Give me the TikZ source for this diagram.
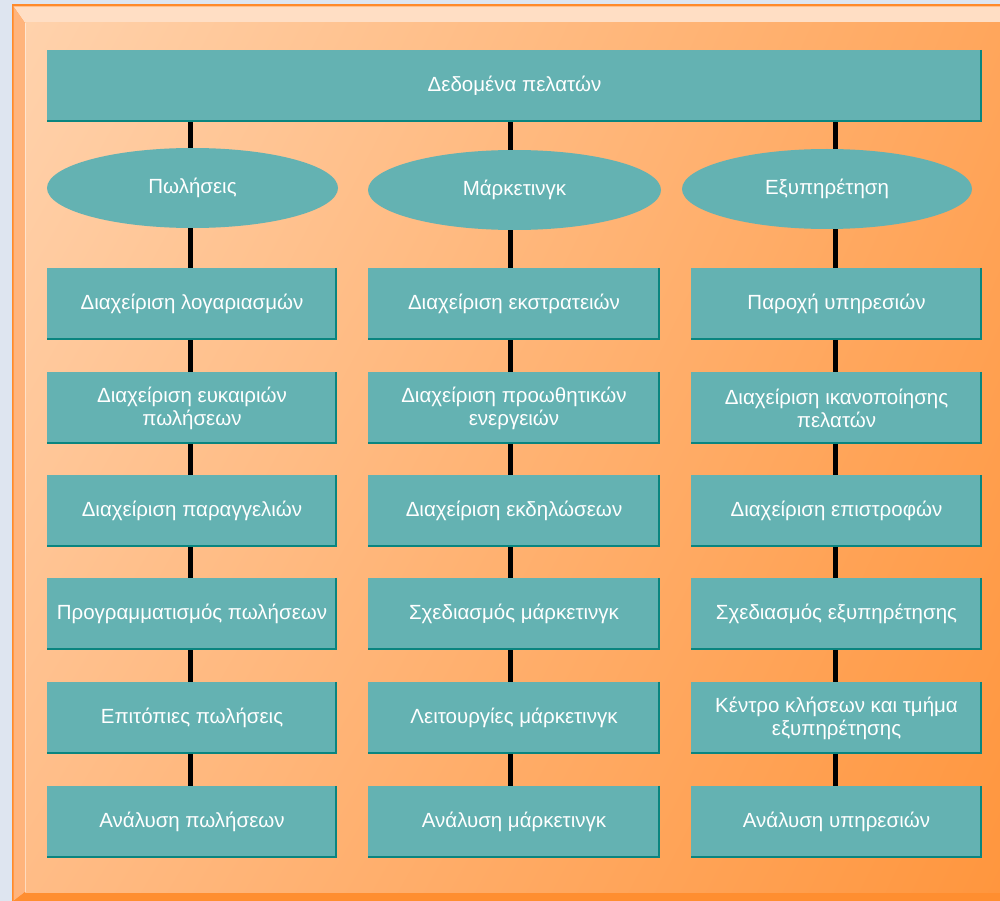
\documentclass[tikz,border=0pt]{standalone}
\usepackage{fontspec}
\setmainfont{Liberation Sans}
\usetikzlibrary{shapes.geometric,shadings}
\definecolor{outerbg}{HTML}{DEE5F0}
\definecolor{frameline}{HTML}{FF8A2A}
\definecolor{bevtop}{HTML}{FFDEC4}
\definecolor{bevleft}{HTML}{FFB47C}
\definecolor{bevbot}{HTML}{FF8E30}
\definecolor{gUL}{HTML}{FFD2AC}
\definecolor{gUR}{HTML}{FFA65C}
\definecolor{gLL}{HTML}{FFBC86}
\definecolor{gLR}{HTML}{FF963E}
\definecolor{boxfill}{HTML}{64B2B2}
\definecolor{boxedge}{HTML}{0A857F}
\tikzset{
  txt/.style={text=white, font=\fontsize{20.5}{23}\selectfont, align=center, inner sep=0pt},
  boxnode/.style={txt, rectangle, fill=boxfill, minimum height=72pt},
  col1/.style={boxnode, minimum width=290pt},
  col2/.style={boxnode, minimum width=292pt},
  col3/.style={boxnode, minimum width=291pt},
  ovalnode/.style={txt, ellipse, fill=boxfill, minimum width=291pt, minimum height=80pt},
  edgeline/.style={draw=boxedge, line width=2.6pt},
  conn/.style={draw=black, line width=5.5pt}
}
\newcommand{\boxedges}[1]{%
  \draw[edgeline] ([xshift=-1.3pt]#1.north east) -- ([xshift=-1.3pt,yshift=1.3pt]#1.south east) -- ([yshift=1.3pt]#1.south west);}
\begin{document}
\begin{tikzpicture}[x=1pt,y=-1pt]
\useasboundingbox (0,0) rectangle (1000,901);
% background and bevelled panel
\fill[outerbg] (0,0) rectangle (1000,901);
\fill[frameline] (11.5,4.5) rectangle (1000,901);
\fill[bevtop] (13.5,6.5) -- (1000,6.5) -- (1000,23) -- (25,23) -- cycle;
\fill[bevleft] (13.5,6.5) -- (25,23) -- (25,892) -- (13.5,901) -- cycle;
\fill[bevbot] (13.5,901) -- (25,892) -- (1000,892) -- (1000,901) -- cycle;
\shade[upper left=gUL, upper right=gUR, lower left=gLL, lower right=gLR] (25,23) rectangle (1000,892);
\draw[white, opacity=0.45, line width=0.8pt] (25.5,23) -- (25.5,892);
% column axes for connectors
\coordinate (k1) at (190.5,0);
\coordinate (k2) at (510.5,0);
\coordinate (k3) at (835.5,0);
% top bar
\node[boxnode, minimum width=935pt] (top) at (514.5,86) {Δεδομένα πελατών};
% ellipses
\node[ovalnode] (e1) at (192.5,188) {Πωλήσεις};
\node[ovalnode, minimum width=293pt] (e2) at (514.5,190) {Μάρκετινγκ};
\node[ovalnode, minimum width=290pt] (e3) at (827,189) {Εξυπηρέτηση};
% column 1
\node[col1] (a1) at (192,304) {Διαχείριση λογαριασμών};
\node[col1] (a2) at (192,408) {Διαχείριση ευκαιριών\\πωλήσεων};
\node[col1] (a3) at (192,511) {Διαχείριση παραγγελιών};
\node[col1] (a4) at (192,614) {Προγραμματισμός πωλήσεων};
\node[col1] (a5) at (192,718) {Επιτόπιες πωλήσεις};
\node[col1] (a6) at (192,822) {Ανάλυση πωλήσεων};
% column 2
\node[col2] (b1) at (514,304) {Διαχείριση εκστρατειών};
\node[col2] (b2) at (514,408) {Διαχείριση προωθητικών\\ενεργειών};
\node[col2] (b3) at (514,511) {Διαχείριση εκδηλώσεων};
\node[col2] (b4) at (514,614) {Σχεδιασμός μάρκετινγκ};
\node[col2] (b5) at (514,718) {Λειτουργίες μάρκετινγκ};
\node[col2] (b6) at (514,822) {Ανάλυση μάρκετινγκ};
% column 3
\node[col3] (c1) at (836.5,304) {Παροχή υπηρεσιών};
\node[col3] (c2) at (836.5,408) {Διαχείριση ικανοποίησης\\πελατών};
\node[col3] (c3) at (836.5,511) {Διαχείριση επιστροφών};
\node[col3] (c4) at (836.5,614) {Σχεδιασμός εξυπηρέτησης};
\node[col3] (c5) at (836.5,718) {Κέντρο κλήσεων και τμήμα\\εξυπηρέτησης};
\node[col3] (c6) at (836.5,822) {Ανάλυση υπηρεσιών};
% dark right/bottom edges
\foreach \n in {top,a1,a2,a3,a4,a5,a6,b1,b2,b3,b4,b5,b6,c1,c2,c3,c4,c5,c6}{\boxedges{\n}}
% connectors
\draw[conn] (top.south -| k1) -- (e1.north -| k1);
\draw[conn] (top.south -| k2) -- (e2.north -| k2);
\draw[conn] (top.south -| k3) -- (e3.north -| k3);
\draw[conn] (e1.south -| k1) -- (a1.north -| k1);
\draw[conn] (e2.south -| k2) -- (b1.north -| k2);
\draw[conn] (e3.south -| k3) -- (c1.north -| k3);
\foreach \p/\q in {a1/a2,a2/a3,a3/a4,a4/a5,a5/a6}{\draw[conn] (\p.south -| k1) -- (\q.north -| k1);}
\foreach \p/\q in {b1/b2,b2/b3,b3/b4,b4/b5,b5/b6}{\draw[conn] (\p.south -| k2) -- (\q.north -| k2);}
\foreach \p/\q in {c1/c2,c2/c3,c3/c4,c4/c5,c5/c6}{\draw[conn] (\p.south -| k3) -- (\q.north -| k3);}
\end{tikzpicture}
\end{document}
